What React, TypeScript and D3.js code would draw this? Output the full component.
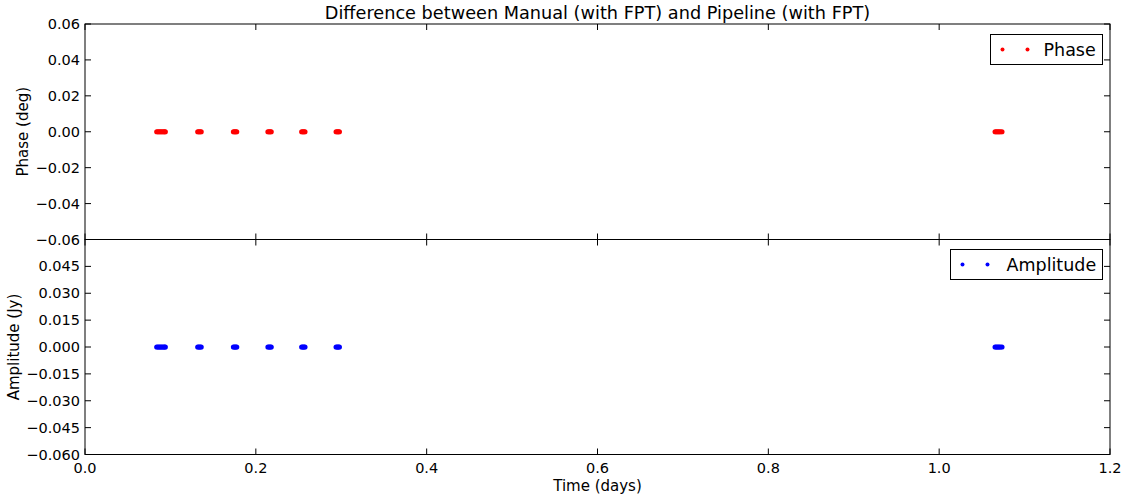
import React from "react";
import * as d3 from "d3";

// Data (times in days, differences all zero)
const times: number[] = [
  0.084, 0.0855, 0.087, 0.0885, 0.09, 0.0915, 0.093, 0.094,
  0.132, 0.1333, 0.1347, 0.136,
  0.1738, 0.1751, 0.1764, 0.1776,
  0.2142, 0.2155, 0.2168, 0.218,
  0.2537, 0.255, 0.2563, 0.2575,
  0.294, 0.2953, 0.2966, 0.2978,
  1.0655, 1.067, 1.0685, 1.07, 1.0715, 1.0735,
];
const phaseDiff: number[] = times.map(() => 0);
const ampDiff: number[] = times.map(() => 0);

const xTicks: number[] = [0.0, 0.2, 0.4, 0.6, 0.8, 1.0, 1.2];
const phaseTicks: number[] = [-0.06, -0.04, -0.02, 0.0, 0.02, 0.04, 0.06];
const ampTicks: number[] = [-0.06, -0.045, -0.03, -0.015, 0.0, 0.015, 0.03, 0.045];

const title = "Difference between Manual (with FPT) and Pipeline (with FPT)";
const xLabel = "Time (days)";
const phaseLabel = "Phase (deg)";
const ampLabel = "Amplitude (Jy)";
const phaseLegend = "Phase";
const ampLegend = "Amplitude";

const W = 1126;
const H = 498;
const L = 85;
const R = 1110;
const T = 24;
const M = 239.5;
const B = 454.5;
const FONT = "DejaVu Sans, sans-serif";
const TICK = 6;

const minus = (s: string) => s.replace(/-/g, "\u2212");

function Panel({
  top,
  bottom,
  ticks,
  fmt,
  values,
  color,
  label,
  labelX,
  legend,
  legendBox,
  textOff,
  showXLabels,
}: any) {
  const x = d3.scaleLinear().domain([0, 1.2]).range([L, R]);
  const y = d3.scaleLinear().domain([-0.06, 0.06]).range([bottom, top]);
  const f = d3.format(fmt);
  const cy = (top + bottom) / 2;
  const [lx, ly, lw, lh] = legendBox;
  return (
    <g>
      {times.map((t, i) => (
        <circle key={i} cx={x(t)} cy={y(values[i])} r={2.6} fill={color} />
      ))}
      {ticks.map((v: number, i: number) => (
        <g key={"y" + i}>
          <line x1={L} x2={L + TICK} y1={y(v)} y2={y(v)} stroke="#000" />
          <line x1={R} x2={R - TICK} y1={y(v)} y2={y(v)} stroke="#000" />
          <text
            x={L - 5}
            y={y(v)}
            textAnchor="end"
            dominantBaseline="central"
            fontSize={14.5}
            fontFamily={FONT}
          >
            {minus(f(v))}
          </text>
        </g>
      ))}
      {xTicks.map((v, i) => (
        <g key={"x" + i}>
          <line x1={x(v)} x2={x(v)} y1={top} y2={top + TICK} stroke="#000" />
          <line x1={x(v)} x2={x(v)} y1={bottom} y2={bottom - TICK} stroke="#000" />
          {showXLabels && (
            <text
              x={x(v)}
              y={bottom + 13}
              textAnchor="middle"
              dominantBaseline="central"
              fontSize={14.5}
              fontFamily={FONT}
            >
              {d3.format(".1f")(v)}
            </text>
          )}
        </g>
      ))}
      <rect x={L} y={top} width={R - L} height={bottom - top} fill="none" stroke="#000" strokeWidth={1} />
      <text
        transform={`translate(${labelX},${cy}) rotate(-90)`}
        textAnchor="middle"
        dominantBaseline="central"
        fontSize={15}
        fontFamily={FONT}
      >
        {label}
      </text>
      <rect x={lx} y={ly} width={lw} height={lh} fill="#fff" stroke="#000" strokeWidth={1} />
      <circle cx={lx + 12} cy={ly + lh / 2} r={2} fill={color} />
      <circle cx={lx + 37} cy={ly + lh / 2} r={2} fill={color} />
      <text
        x={lx + textOff}
        y={ly + lh / 2}
        dominantBaseline="central"
        fontSize={17.5}
        fontFamily={FONT}
      >
        {legend}
      </text>
    </g>
  );
}

export default function App() {
  return (
    <svg
      width={W}
      height={H}
      style={{ position: "absolute", left: 0, top: 0, background: "#fff" }}
    >
      <rect x={0} y={0} width={W} height={H} fill="#fff" />
      <Panel
        top={T}
        bottom={M}
        ticks={phaseTicks}
        fmt=".2f"
        values={phaseDiff}
        color="#ff0000"
        label={phaseLabel}
        labelX={23}
        legend={phaseLegend}
        legendBox={[990.5, 34.5, 112, 30]}
        textOff={53}
        showXLabels={false}
      />
      <Panel
        top={M}
        bottom={B}
        ticks={ampTicks}
        fmt=".3f"
        values={ampDiff}
        color="#0000ff"
        label={ampLabel}
        labelX={14}
        legend={ampLegend}
        legendBox={[950.5, 249.5, 152, 30]}
        textOff={56}
        showXLabels={true}
      />
      <text
        x={(L + R) / 2}
        y={13}
        textAnchor="middle"
        dominantBaseline="central"
        fontSize={17.7}
        fontFamily={FONT}
      >
        {title}
      </text>
      <text
        x={(L + R) / 2}
        y={486}
        textAnchor="middle"
        dominantBaseline="central"
        fontSize={15}
        fontFamily={FONT}
      >
        {xLabel}
      </text>
    </svg>
  );
}
